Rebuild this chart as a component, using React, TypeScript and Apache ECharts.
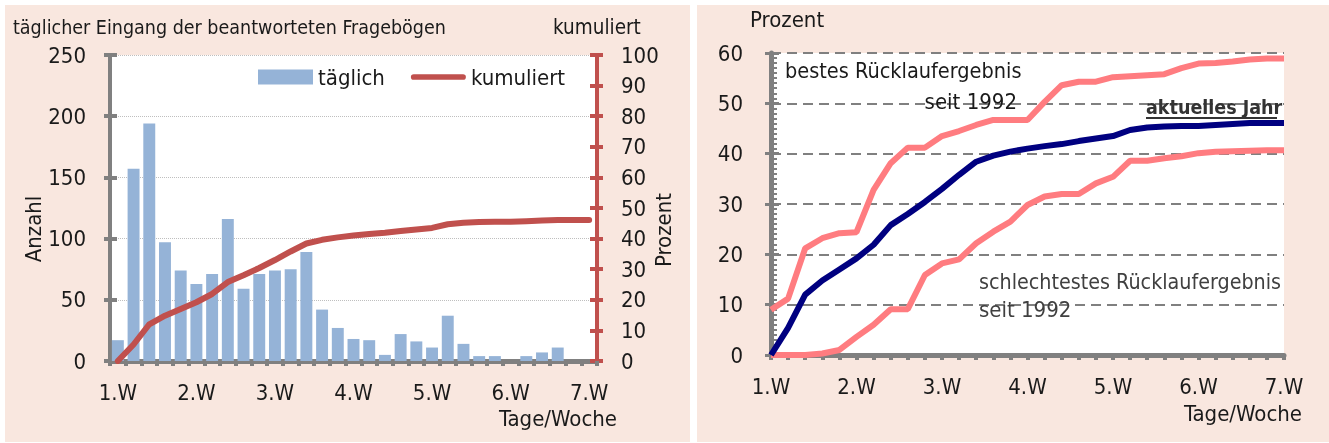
import React, { useEffect, useRef } from "react";
import * as echarts from "echarts";

const weeks = ["1.W", "2.W", "3.W", "4.W", "5.W", "6.W", "7.W"];
const daysPerWeek = 5;
const categories: string[] = [];
weeks.forEach((w, wi) => {
  const n = wi === weeks.length - 1 ? 1 : daysPerWeek;
  for (let d = 0; d < n; d++) categories.push(d === 0 ? w : `${w}/${d + 1}`);
});

const taeglich = [17, 157, 194, 97, 74, 63, 71, 116, 59, 71, 74, 75, 89, 42, 27, 18, 17, 5, 22, 16, 11, 37, 14, 4, 4, 0, 4, 7, 11, 0, 0];
const aktuellesJahr = [0, 5.4, 12, 14.8, 17, 19.2, 21.9, 25.8, 28, 30.4, 33, 35.8, 38.4, 39.6, 40.4, 41, 41.5, 41.9, 42.5, 43, 43.5, 44.7, 45.2, 45.4, 45.5, 45.5, 45.7, 45.9, 46.1, 46.1, 46.1];
const bestes = [9, 11.2, 21.2, 23.2, 24.2, 24.4, 32.8, 38.1, 41.2, 41.2, 43.5, 44.5, 45.7, 46.7, 46.7, 46.7, 50.3, 53.6, 54.3, 54.3, 55.2, 55.4, 55.6, 55.8, 57, 57.9, 58, 58.3, 58.7, 58.9, 58.9];
const schlechtestes = [0, 0, 0, 0.3, 1, 3.6, 6, 9.1, 9.1, 15.9, 18.2, 19, 22.2, 24.5, 26.5, 29.8, 31.5, 32, 32, 34.1, 35.4, 38.6, 38.6, 39.1, 39.5, 40.1, 40.4, 40.5, 40.6, 40.7, 40.7];

const FONT = "'Liberation Sans Narrow', 'DejaVu Sans Condensed', 'Roboto', sans-serif";
const TXT = "#1a1a1a";
const GRAY = "#808080";
const RED = "#C0504D";
const PINK = "#FF7C80";
const BG = "#F9E7DF";

export default function App() {
  const ref = useRef<HTMLDivElement>(null);
  useEffect(() => {
    if (!ref.current) return;
    const chart = echarts.init(ref.current, undefined, { renderer: "svg" });
    const lbl = { fontFamily: FONT, fontSize: 22, color: TXT };
    const txt = (x: number, y: number, text: string, extra: any = {}) => ({
      type: "text",
      x,
      y,
      style: { text, fontFamily: FONT, fontSize: 22, fill: TXT, textVerticalAlign: "middle", ...extra },
      z: 10,
    });
    chart.setOption({
      animation: false,
      textStyle: { fontFamily: FONT },
      grid: [
        { left: 110, top: 55, width: 487, height: 306, show: true, backgroundColor: "#fff", borderWidth: 0 },
        { left: 771, top: 53, width: 513, height: 302, show: true, backgroundColor: "#fff", borderWidth: 0 },
      ],
      legend: {
        left: 258,
        top: 66,
        padding: 0,
        itemWidth: 55,
        itemHeight: 15,
        itemGap: 26,
        textStyle: { ...lbl },
        data: [
          { name: "täglich", icon: "rect" },
          { name: "kumuliert", icon: "path://M3,0 H55 A3,3 0 0 1 55,6 H3 A3,3 0 0 1 3,0 Z" },
        ],
      },
      xAxis: [
        {
          gridIndex: 0,
          type: "category",
          data: categories,
          boundaryGap: true,
          axisLine: { lineStyle: { color: GRAY, width: 5 } },
          axisTick: { show: true, interval: 0, length: 5, lineStyle: { color: GRAY, width: 4 } },
          axisLabel: { ...lbl, interval: 4, margin: 20 },
          splitLine: { show: false },
        },
        {
          gridIndex: 0,
          type: "category",
          data: categories,
          position: "top",
          axisLine: { lineStyle: { color: GRAY, width: 2.5 } },
          axisTick: { show: false },
          axisLabel: { show: false },
          splitLine: { show: false },
        },
        {
          gridIndex: 1,
          type: "category",
          data: categories,
          boundaryGap: false,
          axisLine: { lineStyle: { color: GRAY, width: 5 } },
          axisTick: { show: true, interval: 0, length: 5, lineStyle: { color: GRAY, width: 4 } },
          axisLabel: { ...lbl, interval: 4, margin: 20 },
          splitLine: { show: false },
        },
      ],
      yAxis: [
        {
          gridIndex: 0,
          type: "value",
          position: "left",
          min: 0,
          max: 250,
          interval: 50,
          axisLine: { show: true, lineStyle: { color: GRAY, width: 4 } },
          axisTick: { show: true, length: 6, lineStyle: { color: GRAY, width: 4 } },
          axisLabel: { ...lbl, margin: 24 },
          splitLine: { show: true, lineStyle: { color: "#BFBFBF", width: 1, type: "dotted" } },
        },
        {
          gridIndex: 0,
          type: "value",
          position: "right",
          min: 0,
          max: 100,
          interval: 10,
          axisLine: { show: true, lineStyle: { color: RED, width: 4 } },
          axisTick: { show: true, length: 6, lineStyle: { color: RED, width: 4 } },
          axisLabel: { ...lbl, margin: 24 },
          splitLine: { show: false },
        },
        {
          gridIndex: 0,
          type: "value",
          position: "left",
          min: 0,
          max: 250,
          interval: 50,
          axisLine: { show: false },
          axisTick: { show: true, inside: true, length: 7, lineStyle: { color: GRAY, width: 4 } },
          axisLabel: { show: false },
          splitLine: { show: false },
        },
        {
          gridIndex: 0,
          type: "value",
          position: "right",
          min: 0,
          max: 100,
          interval: 10,
          axisLine: { show: false },
          axisTick: { show: true, inside: true, length: 7, lineStyle: { color: RED, width: 4 } },
          axisLabel: { show: false },
          splitLine: { show: false },
        },
        {
          gridIndex: 1,
          type: "value",
          position: "left",
          min: 0,
          max: 60,
          interval: 10,
          axisLine: { show: true, lineStyle: { color: GRAY, width: 5 } },
          axisTick: { show: true, length: 6, lineStyle: { color: GRAY, width: 3 } },
          axisLabel: { ...lbl, margin: 28 },
          splitLine: { show: true, lineStyle: { color: GRAY, width: 2, type: [10, 6] } },
        },
        {
          gridIndex: 1,
          type: "value",
          position: "left",
          min: 0,
          max: 60,
          interval: 10,
          axisLine: { show: false },
          axisTick: { show: true, inside: true, length: 8, lineStyle: { color: GRAY, width: 3 } },
          minorTick: { show: true, splitNumber: 10, length: 6, lineStyle: { color: GRAY, width: 2 } },
          axisLabel: { show: false },
          splitLine: { show: false },
        },
      ],
      series: [
        {
          name: "täglich",
          type: "bar",
          xAxisIndex: 0,
          yAxisIndex: 0,
          data: taeglich,
          barCategoryGap: "24%",
          itemStyle: { color: "#95B3D7" },
        },
        {
          name: "kumuliert",
          type: "line",
          xAxisIndex: 0,
          yAxisIndex: 1,
          data: aktuellesJahr,
          symbol: "none",
          lineStyle: { color: RED, width: 6, cap: "round", join: "round" },
          itemStyle: { color: RED },
        },
        {
          name: "bestes",
          type: "line",
          xAxisIndex: 2,
          yAxisIndex: 4,
          data: bestes,
          symbol: "none",
          lineStyle: { color: PINK, width: 6 },
        },
        {
          name: "schlechtestes",
          type: "line",
          xAxisIndex: 2,
          yAxisIndex: 4,
          data: schlechtestes,
          symbol: "none",
          lineStyle: { color: PINK, width: 6 },
        },
        {
          name: "aktuelles Jahr",
          type: "line",
          xAxisIndex: 2,
          yAxisIndex: 4,
          data: aktuellesJahr,
          symbol: "none",
          lineStyle: { color: "#000080", width: 6 },
        },
      ],
      graphic: [
        { type: "rect", shape: { x: 5, y: 5, width: 685, height: 437 }, style: { fill: BG }, z: -10, silent: true },
        { type: "rect", shape: { x: 697, y: 5, width: 632, height: 437 }, style: { fill: BG }, z: -10, silent: true },
        txt(13, 27, "täglicher Eingang der beantworteten Fragebögen", { fontSize: 19.5 }),
        txt(553, 27, "kumuliert", { fontSize: 20.5 }),
        { ...txt(33, 229, "Anzahl", { textAlign: "center" }), rotation: Math.PI / 2 },
        { ...txt(663, 230, "Prozent", { textAlign: "center" }), rotation: Math.PI / 2 },
        txt(617, 418, "Tage/Woche", { textAlign: "right" }),
        txt(750, 19, "Prozent"),
        txt(785, 70, "bestes Rücklaufergebnis", { fontSize: 21.5 }),
        txt(1017, 101, "seit 1992", { textAlign: "right" }),
        txt(1146, 107, "aktuelles Jahr", { fontWeight: "bold", fontSize: 19.5, fill: "#333" }),
        { type: "line", shape: { x1: 1146, y1: 118, x2: 1277, y2: 118 }, style: { stroke: "#333", lineWidth: 2 }, z: 10 },
        txt(979, 281, "schlechtestes Rücklaufergebnis", { fill: "#404040", fontSize: 21.3 }),
        txt(979, 309, "seit 1992", { fill: "#404040" }),
        txt(1302, 413, "Tage/Woche", { textAlign: "right" }),
      ],
    });
    return () => chart.dispose();
  }, []);
  return <div ref={ref} style={{ position: "fixed", left: 0, top: 0, width: 1329, height: 443 }} />;
}
